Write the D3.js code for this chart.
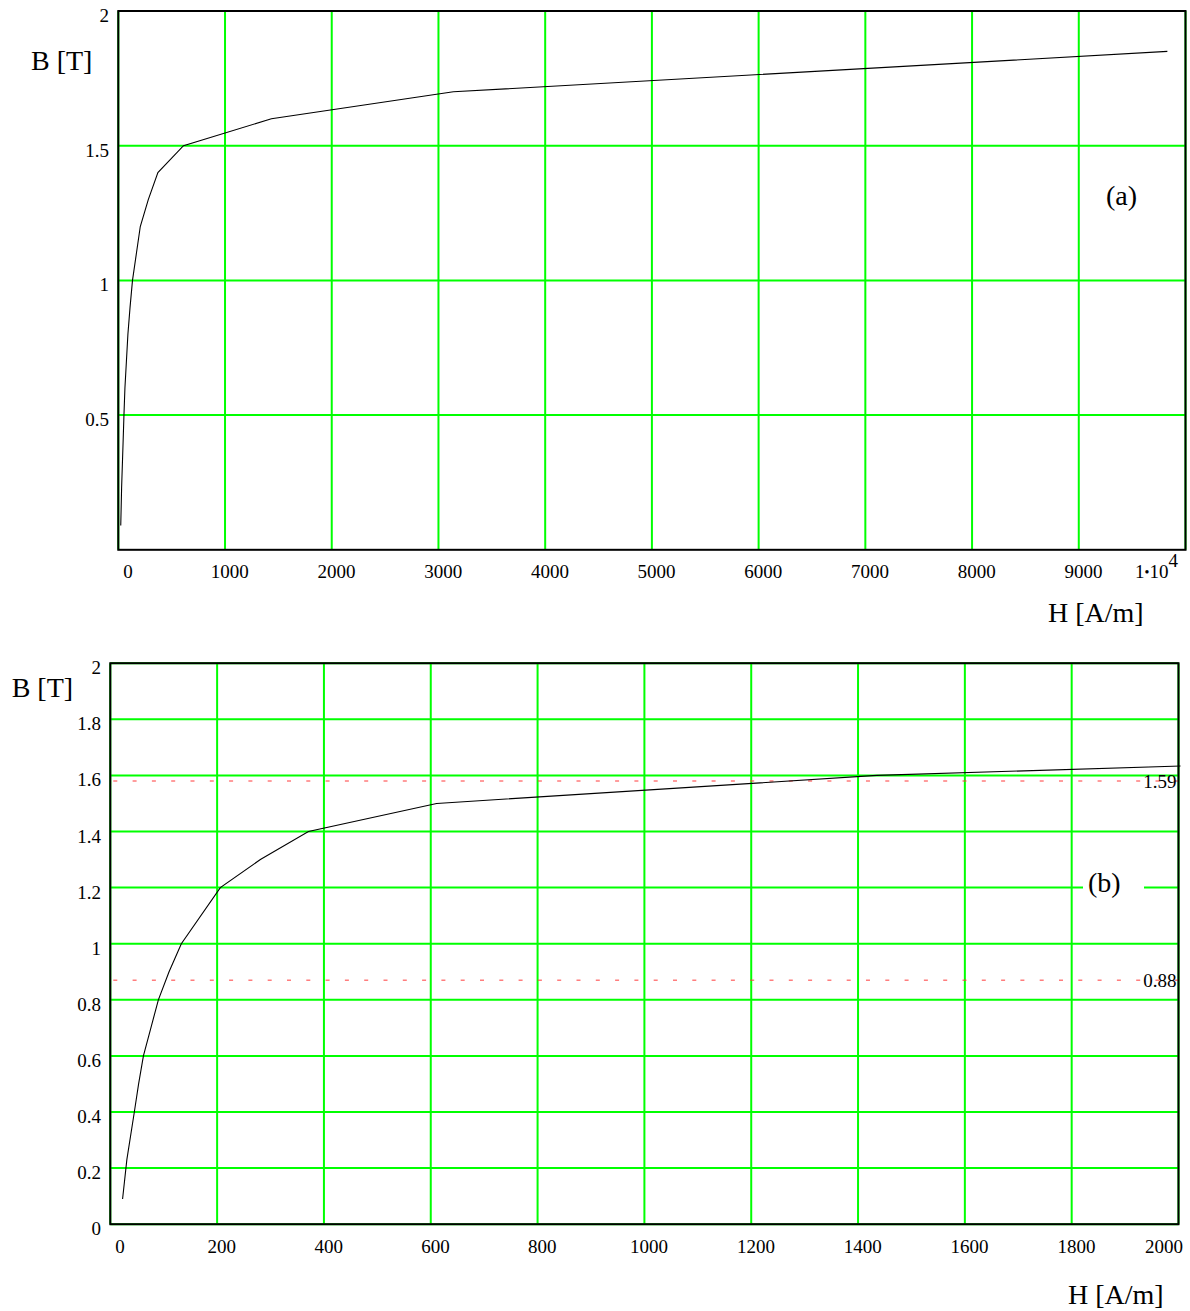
<!DOCTYPE html>
<html>
<head>
<meta charset="utf-8">
<script src="https://cdn.jsdelivr.net/npm/d3@7"></script>
<style>
  html, body { margin: 0; padding: 0; background: #ffffff; }
  svg { display: block; }
  text { font-family: "Liberation Serif", "Times New Roman", serif; fill: #000; }
</style>
</head>
<body>
<svg id="chart" width="1190" height="1311"></svg>
<script>
// ---- data (B-H magnetisation curve) ----
const H = [23, 31, 45, 53, 62, 76, 90, 110, 133, 206, 281, 371, 611, 1435, 3140, 9830];
const B = [0.09, 0.23, 0.4, 0.5, 0.6, 0.7, 0.8, 0.9, 1.0, 1.2, 1.3, 1.4, 1.5, 1.6, 1.7, 1.85];

// chart (a)
const xTicksA = [0, 1000, 2000, 3000, 4000, 5000, 6000, 7000, 8000, 9000, 10000];
const yTicksA = [0.5, 1, 1.5, 2];
// chart (b)
const xTicksB = [0, 200, 400, 600, 800, 1000, 1200, 1400, 1600, 1800, 2000];
const yTicksB = [0, 0.2, 0.4, 0.6, 0.8, 1, 1.2, 1.4, 1.6, 1.8, 2];
const markersB = [1.59, 0.88];

const points = H.map((h, i) => ({h: h, b: B[i]}));
const svg = d3.select("#chart");
svg.append("rect").attr("width", 1190).attr("height", 1311).attr("fill", "#fff");

function drawPanel(cfg) {
  const x = d3.scaleLinear().domain(cfg.xDomain).range(cfg.xRange);
  const y = d3.scaleLinear().domain(cfg.yDomain).range(cfg.yRange);
  const g = svg.append("g");
  const [x0, x1] = cfg.xRange, [y0, y1] = cfg.yRange;

  // green grid
  g.selectAll("line.gx").data(cfg.xTicks).enter().append("line")
    .attr("x1", d => x(d)).attr("x2", d => x(d))
    .attr("y1", y0).attr("y2", y1)
    .attr("stroke", "#00ff00").attr("stroke-width", 2);
  g.selectAll("line.gy").data(cfg.yTicks).enter().append("line")
    .attr("x1", x0).attr("x2", x1)
    .attr("y1", d => y(d)).attr("y2", d => y(d))
    .attr("stroke", "#00ff00").attr("stroke-width", 2);

  // markers (dashed)
  const mOff = 2.8;
  if (cfg.markers) {
    g.selectAll("line.mk").data(cfg.markers).enter().append("line")
      .attr("x1", x0 + 3).attr("x2", x1)
      .attr("y1", d => y(d) + mOff).attr("y2", d => y(d) + mOff)
      .attr("stroke", "#ff3b3b").attr("stroke-width", 1)
      .attr("stroke-dasharray", "4,15.3");
  }

  // panel label with white background
  if (cfg.boxLabel) {
    g.append("rect").attr("x", cfg.boxLabel.bx).attr("y", cfg.boxLabel.by)
      .attr("width", cfg.boxLabel.bw).attr("height", cfg.boxLabel.bh).attr("fill", "#fff");
  }

  // curve
  const clipId = "clip" + cfg.id;
  svg.append("clipPath").attr("id", clipId).append("rect")
    .attr("x", x0).attr("y", y1).attr("width", x1 - x0 + 2).attr("height", y0 - y1);
  g.append("path").datum(points)
    .attr("clip-path", "url(#" + clipId + ")")
    .attr("fill", "none").attr("stroke", "#000").attr("stroke-width", 1.1)
    .attr("d", d3.line().x(d => x(d.h)).y(d => y(d.b)));

  // frame
  g.append("rect").attr("x", x0).attr("y", y1)
    .attr("width", x1 - x0).attr("height", y0 - y1)
    .attr("fill", "none").attr("stroke", "#000").attr("stroke-width", 2);

  // y tick labels
  g.selectAll("text.yl").data(cfg.yTicks).enter().append("text")
    .attr("x", cfg.yLabelX).attr("y", d => y(d) + 11)
    .attr("text-anchor", "end").attr("font-size", 19)
    .text(d => d3.format("~g")(d));

  // x tick labels
  const n = cfg.xTicks.length;
  cfg.xTicks.forEach((v, i) => {
    const t = g.append("text").attr("y", cfg.xLabelY).attr("font-size", 19);
    if (i === 0) {
      t.attr("x", x(v) + 5).attr("text-anchor", "start").text(String(v));
    } else if (i === n - 1) {
      t.attr("x", x(v) + cfg.lastOffset).attr("text-anchor", "end");
      if (cfg.sciLast) {
        t.append("tspan").text("1");
        t.append("tspan").attr("font-size", 14).attr("dy", -1).text("\u2022");
        t.append("tspan").attr("dy", 1).text("10");
        t.append("tspan").attr("dy", -11.5).text("4");
      } else {
        t.text(String(v));
      }
    } else {
      t.attr("x", x(v) + 4.7).attr("text-anchor", "middle").text(String(v));
    }
  });

  // marker labels
  if (cfg.markers) {
    g.selectAll("text.mkl").data(cfg.markers).enter().append("text")
      .attr("x", x1 - 2).attr("y", d => y(d) + mOff + 6.5)
      .attr("text-anchor", "end").attr("font-size", 19)
      .text(d => d3.format(".2f")(d));
  }

  // axis titles
  g.append("text").attr("x", cfg.yTitle[0]).attr("y", cfg.yTitle[1])
    .attr("font-size", 28).text("B [T]");
  g.append("text").attr("x", cfg.xTitle[0]).attr("y", cfg.xTitle[1])
    .attr("font-size", 28).text("H [A/m]");
  g.append("text").attr("x", cfg.panel[0]).attr("y", cfg.panel[1])
    .attr("font-size", 28).text(cfg.panel[2]);
}

drawPanel({
  id: "a",
  xDomain: [0, 10000], xRange: [118.3, 1185.5],
  yDomain: [0, 2], yRange: [549.8, 11],
  xTicks: xTicksA, yTicks: yTicksA,
  yLabelX: 109, xLabelY: 578, lastOffset: -7.5, sciLast: true,
  yTitle: [31, 70], xTitle: [1048, 621.5],
  panel: [1106, 205, "(a)"]
});

drawPanel({
  id: "b",
  xDomain: [0, 2000], xRange: [110.3, 1178.5],
  yDomain: [0, 2], yRange: [1224.2, 663.2],
  xTicks: xTicksB, yTicks: yTicksB,
  yLabelX: 101, xLabelY: 1253, lastOffset: 4.5, sciLast: false,
  markers: markersB,
  boxLabel: {bx: 1083, by: 872, bw: 61, bh: 28},
  yTitle: [11.7, 696.7], xTitle: [1068, 1304],
  panel: [1088, 891.5, "(b)"]
});
</script>
</body>
</html>
